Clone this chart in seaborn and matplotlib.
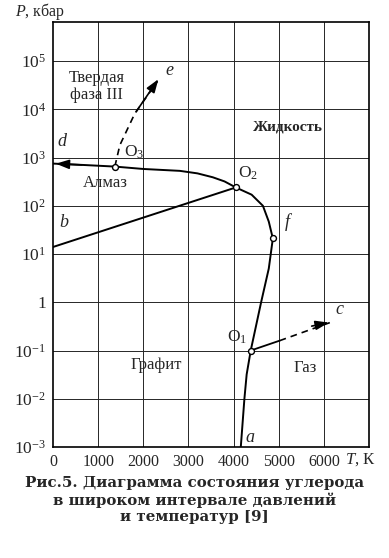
import numpy as np
import pandas as pd
import matplotlib
matplotlib.use("Agg")
import matplotlib.pyplot as plt
import seaborn as sns

# ---- data (T in K, P in kbar) ----
melt_T = [0, 700, 1370, 2000, 2810, 3200, 3540, 3800, 4050, 4400, 4650, 4780, 4870, 4780, 4610, 4380, 4290, 4240, 4160]
melt_P = [750, 700, 650, 580, 530, 470, 390, 320, 240, 170, 100, 47, 21, 5, 1, 0.1, 0.032, 0.01, 0.001]
b_T = [0, 4050]
b_P = [14, 240]
e_T = [1370, 1480, 1810, 2370]
e_P = [650, 1800, 8100, 47000]
c_solid_T = [4380, 5020]
c_solid_P = [0.1, 0.16]
c_dash_T = [5020, 6170]
c_dash_P = [0.16, 0.39]
pts_T = [1370, 4050, 4870, 4380]
pts_P = [650, 240, 21, 0.1]
x_ticks = [0, 1000, 2000, 3000, 4000, 5000, 6000]
y_exps = [-3, -2, -1, 0, 1, 2, 3, 4, 5]

sns.set_style("white")
plt.rcParams['font.family'] = ['Liberation Serif', 'DejaVu Serif']
plt.rcParams['mathtext.fontset'] = 'custom'
plt.rcParams['mathtext.rm'] = 'Liberation Serif'
plt.rcParams['mathtext.it'] = 'Liberation Serif:italic'

fig = plt.figure(figsize=(3.89, 5.58), dpi=100)
ax = fig.add_axes([53/389, 1-447/558, (369-53)/389, (447-22)/558])
ax.set_yscale('log')
ax.set_xlim(0, 7000)
ax.set_ylim(1e-3, 10**5.81)

# grid
for xv in x_ticks[1:]:
    ax.axvline(xv, color='0.15', lw=0.7, zorder=0)
for e in y_exps[1:]:
    ax.axhline(10.0**e, color='0.15', lw=0.7, zorder=0)
for s in ax.spines.values():
    s.set_color('black'); s.set_linewidth(1.2)

melt = pd.DataFrame({'T': melt_T, 'P': melt_P})
sns.lineplot(data=melt, x='T', y='P', sort=False, estimator=None, color='black', lw=1.4, ax=ax)
sns.lineplot(x=b_T, y=b_P, sort=False, estimator=None, color='black', lw=1.4, ax=ax)
sns.lineplot(x=e_T[:-1] + [e_T[-1] - 60], y=e_P[:-1] + [e_P[-1] * 0.8], sort=False, estimator=None,
             color='black', lw=1.2, ls=(0, (4, 3)), ax=ax)
sns.lineplot(x=c_solid_T, y=c_solid_P, sort=False, estimator=None, color='black', lw=1.3, ax=ax)
sns.lineplot(x=c_dash_T, y=c_dash_P, sort=False, estimator=None, color='black', lw=1.2, ls=(0, (4, 3)), ax=ax)

# arrowheads
ap = dict(arrowstyle='-|>,head_length=0.8,head_width=0.28', color='black', lw=1.2)
ax.annotate('', xy=(melt_T[0], melt_P[0]), xytext=(melt_T[1], melt_P[1]), arrowprops=ap)
ax.annotate('', xy=(e_T[-1], e_P[-1]), xytext=(e_T[-2], e_P[-2]), arrowprops=ap)
ax.annotate('', xy=(c_dash_T[-1], c_dash_P[-1]), xytext=(c_dash_T[-1] - 500, c_dash_P[-1] * 0.8), arrowprops=ap)

sns.scatterplot(x=pts_T, y=pts_P, s=18, facecolor='white', edgecolor='black', linewidth=1.0, zorder=5, ax=ax)

ax.set_xticks(x_ticks)
ax.set_xticklabels([str(v) for v in x_ticks], fontsize=11.5)
ax.set_yticks([10.0**e for e in y_exps])
ax.set_yticklabels(['1' if e == 0 else r'$10^{%d}$' % e for e in y_exps], fontsize=12.5)
ax.yaxis.set_minor_locator(matplotlib.ticker.NullLocator())
ax.tick_params(length=0, pad=5)
ax.set_xlabel('')
ax.set_ylabel('')

fs = 12
ax.text(970, 10**4.48, 'Твердая\nфаза III', ha='center', va='center', fontsize=fs, linespacing=1.1)
ax.text(1150, 10**2.47, 'Алмаз', ha='center', va='center', fontsize=fs)
ax.text(5200, 10**3.63, 'Жидкость', ha='center', va='center', fontsize=11, fontweight='bold')
ax.text(2280, 10**-1.30, 'Графит', ha='center', va='center', fontsize=fs)
ax.text(5575, 10**-1.36, 'Газ', ha='center', va='center', fontsize=fs)
ax.text(1800, 10**3.11, r'O$_3$', ha='center', va='center', fontsize=12.5)
ax.text(4320, 10**2.68, r'O$_2$', ha='center', va='center', fontsize=12.5)
ax.text(4070, 10**-0.72, r'O$_1$', ha='center', va='center', fontsize=12.5)
for t, lp, s in [(5180, 1.66, 'f'), (4360, -2.81, 'a'), (2590, 4.81, 'e'),
                 (200, 3.34, 'd'), (240, 1.66, 'b'), (6350, -0.16, 'c')]:
    ax.text(t, 10**lp, s, ha='center', va='center', fontsize=13, style='italic')

fig.text(15/389, 1-12/558, r'$P$, кбар', ha='left', va='center', fontsize=11.5)
fig.text(360/389, 1-460/558, r'$T$, К', ha='center', va='center', fontsize=12)

fig.text(0.5, 1-500/558, 'Рис.5. Диаграмма состояния углерода\nв широком интервале давлений\nи температур [9]',
         ha='center', va='center', fontsize=10.8, fontweight='bold', family='DejaVu Serif', linespacing=1.15)

fig.savefig('out.png', dpi=100)
